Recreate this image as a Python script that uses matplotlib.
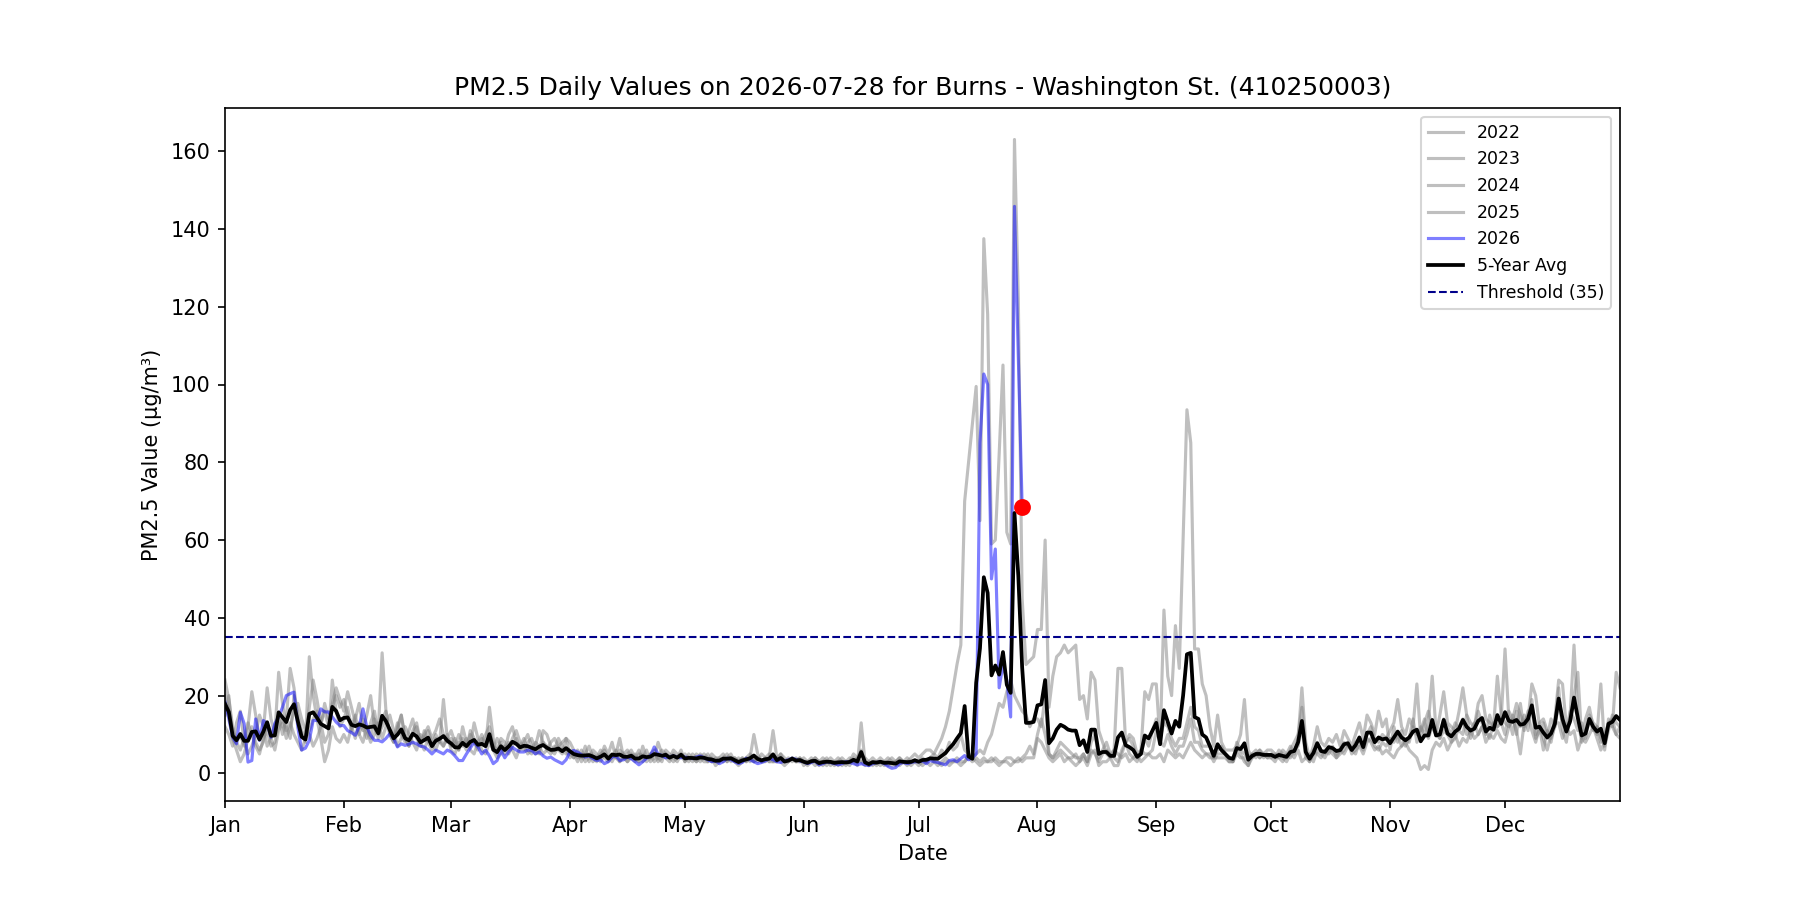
#plot.py
#PM2.5 daily values, 4 past years in gray, current year in blue, 5-year avg in black
import matplotlib
matplotlib.use('Agg')
import matplotlib.pyplot as plt
import matplotlib.dates as mdates
import numpy as np
import pandas as pd

site = 'Burns - Washington St. (410250003)'
today = '2026-07-28'
threshold = 35
nan = float('nan')

#daily values, one list per year, month by month
y2022 = (
    [24,19,12,8,10,7,12,21,15,9,11,22,14,10,26,18,12,9,20,15,11,9,17,24,19,13,8,10,24,16,12]
    + [14,17,12,9,13,11,15,20,12,9,14,16,10,8,12,15,9,7,11,13,8,10,12,9,11,14,10,8]
    + [9,7,10,8,6,11,9,7,8,10,12,7,6,9,8,5,7,9,6,8,10,7,5,6,8,7,6,5,7,8,9]
    + [5,4,6,3,5,7,4,3,5,6,4,3,5,9,4,3,5,4,6,3,4,5,3,4,6,5,4,3,4,5]
    + [4,3,5,4,3,4,5,3,4,3,4,5,3,4,3,4,3,4,10,5,3,4,3,4,3,5,4,3,4,3,4]
    + [3,2,3,4,3,2,3,4,3,2,3,3,2,4,3,3,2,3,4,3,2,3,3,2,3,4,3,2,3,3]
    + [3,4,3,4,5,4,6,5,8,6,7,10,6,5,4,5,6,5,8,10,14,18,17,21,24,20,18,16,15,12,14]
    + [14,12,20,5,4,6,8,7,6,5,4,4,5,3,8,10,4,6,8,5,6,27,27,8,10,9,5,6,21,19,23]
    + [23,8,42,25,20,38,27,60,93.5,85,32,32,23,20,12,7,15,8,6,6,6,7,10,19,6,4,5,4,5,4]
    + [5,4,6,5,4,6,8,10,17,6,3,5,8,6,5,7,6,5,6,8,7,6,8,9,7,10,12,9,8,10,9]
    + [11,13,19,12,10,14,12,23,9,13,16,12,10,15,21,13,12,11,16,22,15,13,12,18,20,14,13,12,25,15]
    + [13,12,15,10,18,11,14,23,20,12,9,6,10,14,24,23,12,13,20,26,9,14,17,12,10,23,6,14,12,26,22]
)
y2023 = (
    [15,20,9,6,3,5,9,12,8,6,8,13,9,12,15,10,14,27,22,14,10,8,30,20,14,9,3,6,12,9,8]
    + [10,8,12,15,10,8,12,9,14,11,31,16,10,8,11,15,9,7,10,12,8,6,9,7,10,8,7,9]
    + [7,9,6,12,8,7,13,9,6,5,8,6,9,7,5,8,6,4,7,9,6,5,7,11,8,6,5,7,6,5,9]
    + [8,6,4,5,3,4,6,5,4,7,5,8,4,3,5,6,4,3,5,4,6,3,4,8,5,4,3,5,4,6]
    + [3,4,3,5,4,3,3,4,2,3,4,3,4,3,2,3,4,5,3,4,3,3,4,11,4,3,2,3,4,3,3]
    + [4,3,3,2,3,4,3,3,2,3,4,3,3,5,4,6,3,2,3,3,4,3,2,3,3,4,3,3,4,5]
    + [4,5,6,6,5,7,9,12,16,22,28,33,70,nan,nan,99.5,65,137.5,118,59,60,82,105,62,59,163,122,45,28,29,30]
    + [37,37,60,17,25,30,31,33,31,32,33,19,20,14,26,24,11,8,5,4,6,5,4,5,3,4,5,3,4,5,4]
    + [4,5,3,6,5,4,5,4,6,8,6,5,4,5,4,4,4,4,4,3,3,5,4,4,2,5,4,6,5,4]
    + [4,5,4,3,5,4,6,7,12,4,3,6,5,4,6,5,7,4,5,6,8,5,6,7,5,8,9,7,6,8,7]
    + [9,8,10,7,9,8,12,10,11,14,9,12,10,9,11,10,8,9,12,14,10,11,13,10,12,11,9,13,12,14]
    + [32,14,10,16,12,15,11,19,10,13,14,11,9,12,22,11,8,15,33,14,8,10,15,13,12,9,7,11,15,13,12]
)
y2024 = (
    [12,10,7,13,16,8,5,7,10,15,12,7,9,6,11,13,9,12,16,18,14,11,10,7,9,12,18,14,17,20,17]
    + [19,15,11,14,18,12,9,13,16,10,12,14,11,9,13,10,8,11,14,9,7,11,8,6,9,8,19,9]
    + [11,8,6,9,7,10,8,6,9,7,17,9,5,8,6,10,12,8,7,6,8,9,6,5,11,10,7,6,9,7,6]
    + [4,5,3,6,4,5,3,4,6,4,3,5,4,6,5,3,4,5,3,7,4,5,6,3,4,5,4,6,5,4]
    + [5,4,4,3,5,4,3,5,4,4,3,4,5,3,4,3,4,3,4,3,5,4,3,3,4,5,3,4,3,4,3]
    + [3,3,4,3,2,3,4,2,3,3,2,3,4,3,2,13,3,2,3,2,3,3,4,3,2,3,3,4,3,3]
    + [3,2,3,4,3,2,3,4,3,3,4,3,3,4,3,4,3,4,3,3,4,3,3,4,4,3,3,4,5,7,5]
    + [10,14,10,5,4,5,6,5,4,4,5,3,5,3,6,5,3,5,6,5,4,3,6,8,9,7,4,5,9,7,11]
    + [14,9,13,12,9,7,9,9,13,17,12,11,7,7,7,4,6,7,5,4,3,8,6,5,4,5,6,4,5,6]
    + [6,5,4,6,5,7,5,9,22,8,4,7,12,8,7,9,8,10,7,11,9,7,10,13,9,15,13,10,16,12,14]
    + [6,12,8,11,7,9,14,8,12,10,13,25,11,9,14,12,10,13,11,10,15,9,12,16,13,10,15,11,12,13]
    + [10,16,14,18,15,12,16,17,9,11,13,9,14,12,18,13,11,16,14,11,13,9,14,11,12,8,10,13,14,10,12]
)
y2025 = (
    [20,16,11,8,6,9,13,10,7,5,9,11,7,8,12,14,11,13,10,8,6,9,11,14,16,13,16,12,18,22,19]
    + [16,21,17,13,10,14,11,8,10,13,9,12,15,11,7,9,12,10,8,6,10,9,11,8,6,9,7,10]
    + [6,5,8,7,9,6,5,8,10,7,9,6,4,5,7,6,9,11,8,7,5,6,8,7,5,6,8,9,7,6,5]
    + [6,4,5,4,7,3,5,4,3,5,4,4,6,3,4,5,6,4,3,5,3,4,5,4,3,6,5,4,3,5]
    + [3,5,4,3,4,5,4,3,3,4,5,3,4,4,3,4,3,4,3,4,3,4,5,3,3,4,3,3,4,3,4]
    + [2,3,3,4,3,3,2,3,3,4,3,2,3,3,4,3,4,3,2,3,3,2,3,4,3,2,3,3,2,3]
    + [2,3,3,2,3,3,2,3,2,3,3,2,3,5,4,3,2,3,3,4,3,2,3,3,2,3,4,3,4,4,4]
    + [9,8,6,4,3,4,5,3,4,3,2,3,4,2,5,6,2,3,3,4,2,2,5,8,5,4,3,6,5,5,6]
    + [11,8,7,10,7,5,7,7,10,14,8,8,6,5,5,3,5,5,5,3,3,6,5,3,2,4,5,6,4,5]
    + [4,3,5,4,3,5,4,6,3,4,5,3,6,5,4,6,5,4,6,5,7,6,5,8,6,9,8,6,7,5,6]
    + [5,4,6,7,8,6,5,4,1,2,1,6,8,7,9,6,8,10,7,9,8,11,9,10,12,8,10,9,11,9]
    + [8,12,14,11,5,13,15,11,8,12,6,11,8,13,13,9,12,10,11,6,9,8,10,12,9,6,8,13,12,10,9]
)
#current year, Jan 1 up to today
y2026 = (
    [18.3,14,9.3,7.6,15.7,12.8,2.9,3.3,14,8.5,13.6,12.8,9.3,12.8,14.5,17,20,20.5,20.9,11.9,6,6.5,8.5,13.6,13.6,16.6,15.8,15.8,14.5,13.2,12.3]
    + [12.3,11,10.5,9.8,12,16.6,12,9.8,8.5,8.5,8.1,9,10.2,9,6.8,7.6,7.2,7.5,8,7.6,7,6.8,6,5,6,5.5,5,6]
    + [5.5,4.5,3.3,3.3,5,6.5,8,6.8,5,6,4.5,2.5,3.3,5.9,4,5.5,6.7,6,5.5,5.5,6,5.9,5,5.5,4.5,3.9,4.2,3.5,3,2.5,3.5]
    + [5.5,5.9,5.5,4.8,4.2,4.5,3.8,3.3,3.5,2.5,3,4.2,4.5,3.3,3.5,4.2,3.8,3,2.2,3,3.9,4.5,6.8,5,4.6,4,4.2,4.5,4.2,4]
    + [4.2,4,3.8,4.2,4.5,4,3.5,3,3.2,2.5,3,3.9,3.5,3,2.5,2.8,3.9,3.5,3,2.5,2.8,3.2,3.9,3.5,3,2.8,3.2,3.5,3.9,3.6,3.2]
    + [3,2.5,2.8,3.2,2.2,2.5,3,2.8,2.5,2.2,2.5,3,2.8,2.5,2.2,2.5,2.2,2,2.5,2.8,3,2.5,1.8,1.3,1.5,2.5,2.8,2.5,2.8,3]
    + [3,3.2,2.5,3.3,3,2.8,2.5,2.2,3.3,3.5,3,3.8,4.6,3.5,4,5,85,102.7,100,50,57.7,22,28,24,14.5,145.8,107,68.5]
)

past_years = {'2022': y2022, '2023': y2023, '2024': y2024, '2025': y2025}

dates = pd.date_range('2026-01-01', '2026-12-31', freq='D')
df = pd.DataFrame({k: np.array(v, dtype=float) for k, v in past_years.items()}, index=dates)
cur = np.full(len(dates), np.nan)
cur[:len(y2026)] = y2026
df['2026'] = cur
#5 year average of whatever years have a value that day
avg = df.mean(axis=1, skipna=True)

fig, ax = plt.subplots(figsize=(12, 6), dpi=150)

for yr in past_years:
    s = df[yr].dropna()
    ax.plot(s.index, s.values, color='gray', alpha=0.5, linewidth=1.5, label=yr)

s = df['2026'].dropna()
ax.plot(s.index, s.values, color='blue', alpha=0.5, linewidth=1.5, label='2026')
ax.plot(avg.index, avg.values, color='black', linewidth=1.8, label='5-Year Avg')
ax.axhline(threshold, color='darkblue', linestyle='--', linewidth=1, label='Threshold (%d)' % threshold)

#today's value
t = pd.Timestamp(today)
ax.scatter([t], [df.loc[t, '2026']], color='red', s=50, zorder=5)

ax.set_xlim(pd.Timestamp('2026-01-01'), pd.Timestamp('2026-12-31'))
ax.xaxis.set_major_locator(mdates.MonthLocator())
ax.xaxis.set_major_formatter(mdates.DateFormatter('%b'))
ax.set_title('PM2.5 Daily Values on %s for %s' % (today, site))
ax.set_xlabel('Date')
ax.set_ylabel('PM2.5 Value (µg/m³)')
ax.legend(loc='upper right', fontsize='small')

fig.savefig('out.png')
